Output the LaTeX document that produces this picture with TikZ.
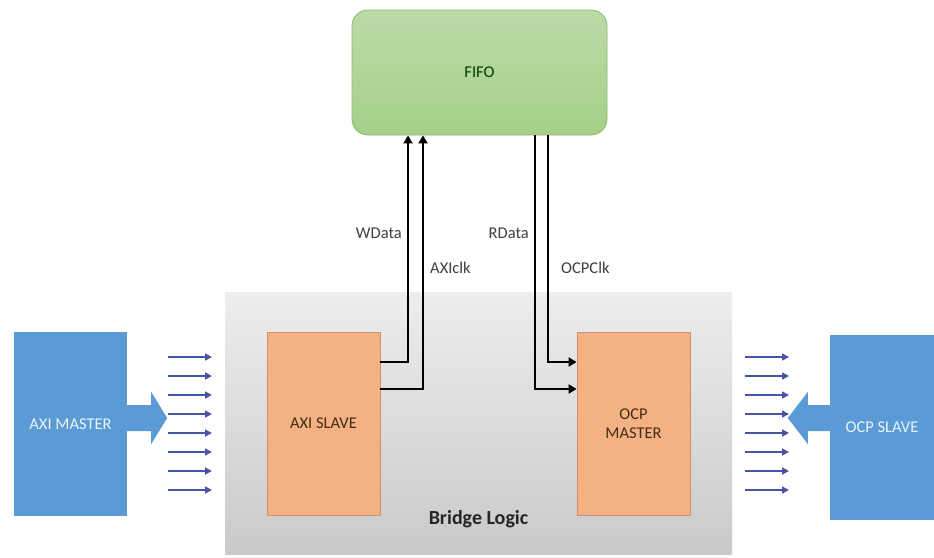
\documentclass[tikz,border=0pt]{standalone}
\usepackage{fontspec}
\setmainfont{Carlito}
\usetikzlibrary{arrows.meta,positioning,calc}
\definecolor{mBlue}{RGB}{91,155,213}
\definecolor{mOrange}{RGB}{244,177,131}
\definecolor{mOrangeDark}{RGB}{214,140,100}
\definecolor{mGreen}{RGB}{165,207,138}
\definecolor{mGreenDark}{RGB}{140,185,110}
\definecolor{busBlue}{RGB}{70,85,165}
\definecolor{labelGray}{RGB}{64,64,64}

\begin{document}
\begin{tikzpicture}[x=1pt, y=-1pt, font=\fontsize{16.5}{19}\selectfont,
      master/.style={fill=mBlue, text=white!88!mBlue, minimum width=113pt, minimum height=184pt, inner sep=0pt},
      block/.style={fill=mOrange, draw=mOrangeDark, line width=0.8pt, text=brown!35!black, align=center,
        minimum width=113pt, minimum height=183pt, inner sep=0pt},
      bus/.style={busBlue, line width=1.6pt, -{Triangle[length=7pt,width=7pt]}},
      wire/.style={line width=2.6pt, -{Triangle[length=8pt,width=9pt]}},
      sig/.style={text=labelGray, inner sep=1pt}]
    \useasboundingbox (0,0) rectangle (934,557);
    \fill[white] (0,0) rectangle (934,557);
    % bridge logic area
    \node[minimum width=507pt, minimum height=262pt, inner sep=0pt, shading=axis,
      top color=gray!14, middle color=gray!7, bottom color=gray!42] (bridge) at (478.5,423) {};
    \node[font=\bfseries\fontsize{20}{22}\selectfont, text=black!85] (bridgelbl)
      [above=23pt of bridge.south] {Bridge Logic};
    % masters and slaves
    \node[master] (axim) at (70.5,424) {AXI MASTER};
    \node[master, minimum width=104pt, minimum height=185pt] (ocps) at (882,427.5) {OCP SLAVE};
    \node[block] (axis) at (323.5,423.5) {AXI SLAVE};
    \node[block] (ocpm) at (633.5,423.5) {OCP\\MASTER};
    \node[rounded corners=16pt, draw=mGreenDark, line width=0.8pt, top color=mGreen!75!white,
      bottom color=mGreen, minimum width=255pt, minimum height=125pt, text=green!25!black]
      (fifo) at (479.5,72.5) {FIFO};
    % big arrows
    \fill[mBlue] ([yshift=19pt]axim.east) -- ++(24,0) -- ++(0,-13) -- ++(16,26)
      -- ++(-16,26) -- ++(0,-13) -- ([yshift=-7pt]axim.east) -- cycle;
    \fill[mBlue] ([yshift=22.5pt]ocps.west) -- ++(-22,0) -- ++(0,-13) -- ++(-20,26)
      -- ++(20,26) -- ++(0,-13) -- ([yshift=-3.5pt]ocps.west) -- cycle;
    % bus lines
    \foreach \k in {0,...,7}{
      \draw[bus] (168,{357+19*\k}) -- (212,{357+19*\k});
      \draw[bus] (745,{357+19*\k}) -- (789,{357+19*\k});
    }
    % wires to and from fifo
    \draw[wire] ([yshift=61.5pt]axis.east) -| ([xshift=-71.5pt]fifo.south);
    \draw[wire] ([yshift=34.5pt]axis.east) -| ([xshift=-56.5pt]fifo.south);
    \draw[wire] ([xshift=55.5pt]fifo.south) |- ([yshift=34.5pt]ocpm.west);
    \draw[wire] ([xshift=68.5pt]fifo.south) |- ([yshift=61.5pt]ocpm.west);
    \node[sig, anchor=east] (wdata) at (403,233) {WData};
    \node[sig, anchor=west] (axiclk) at (429,268) {AXIclk};
    \node[sig, anchor=east] (rdata) at (530,233) {RData};
    \node[sig, anchor=west] (ocpclk) at (560,268) {OCPClk};
  \end{tikzpicture}
\end{document}
